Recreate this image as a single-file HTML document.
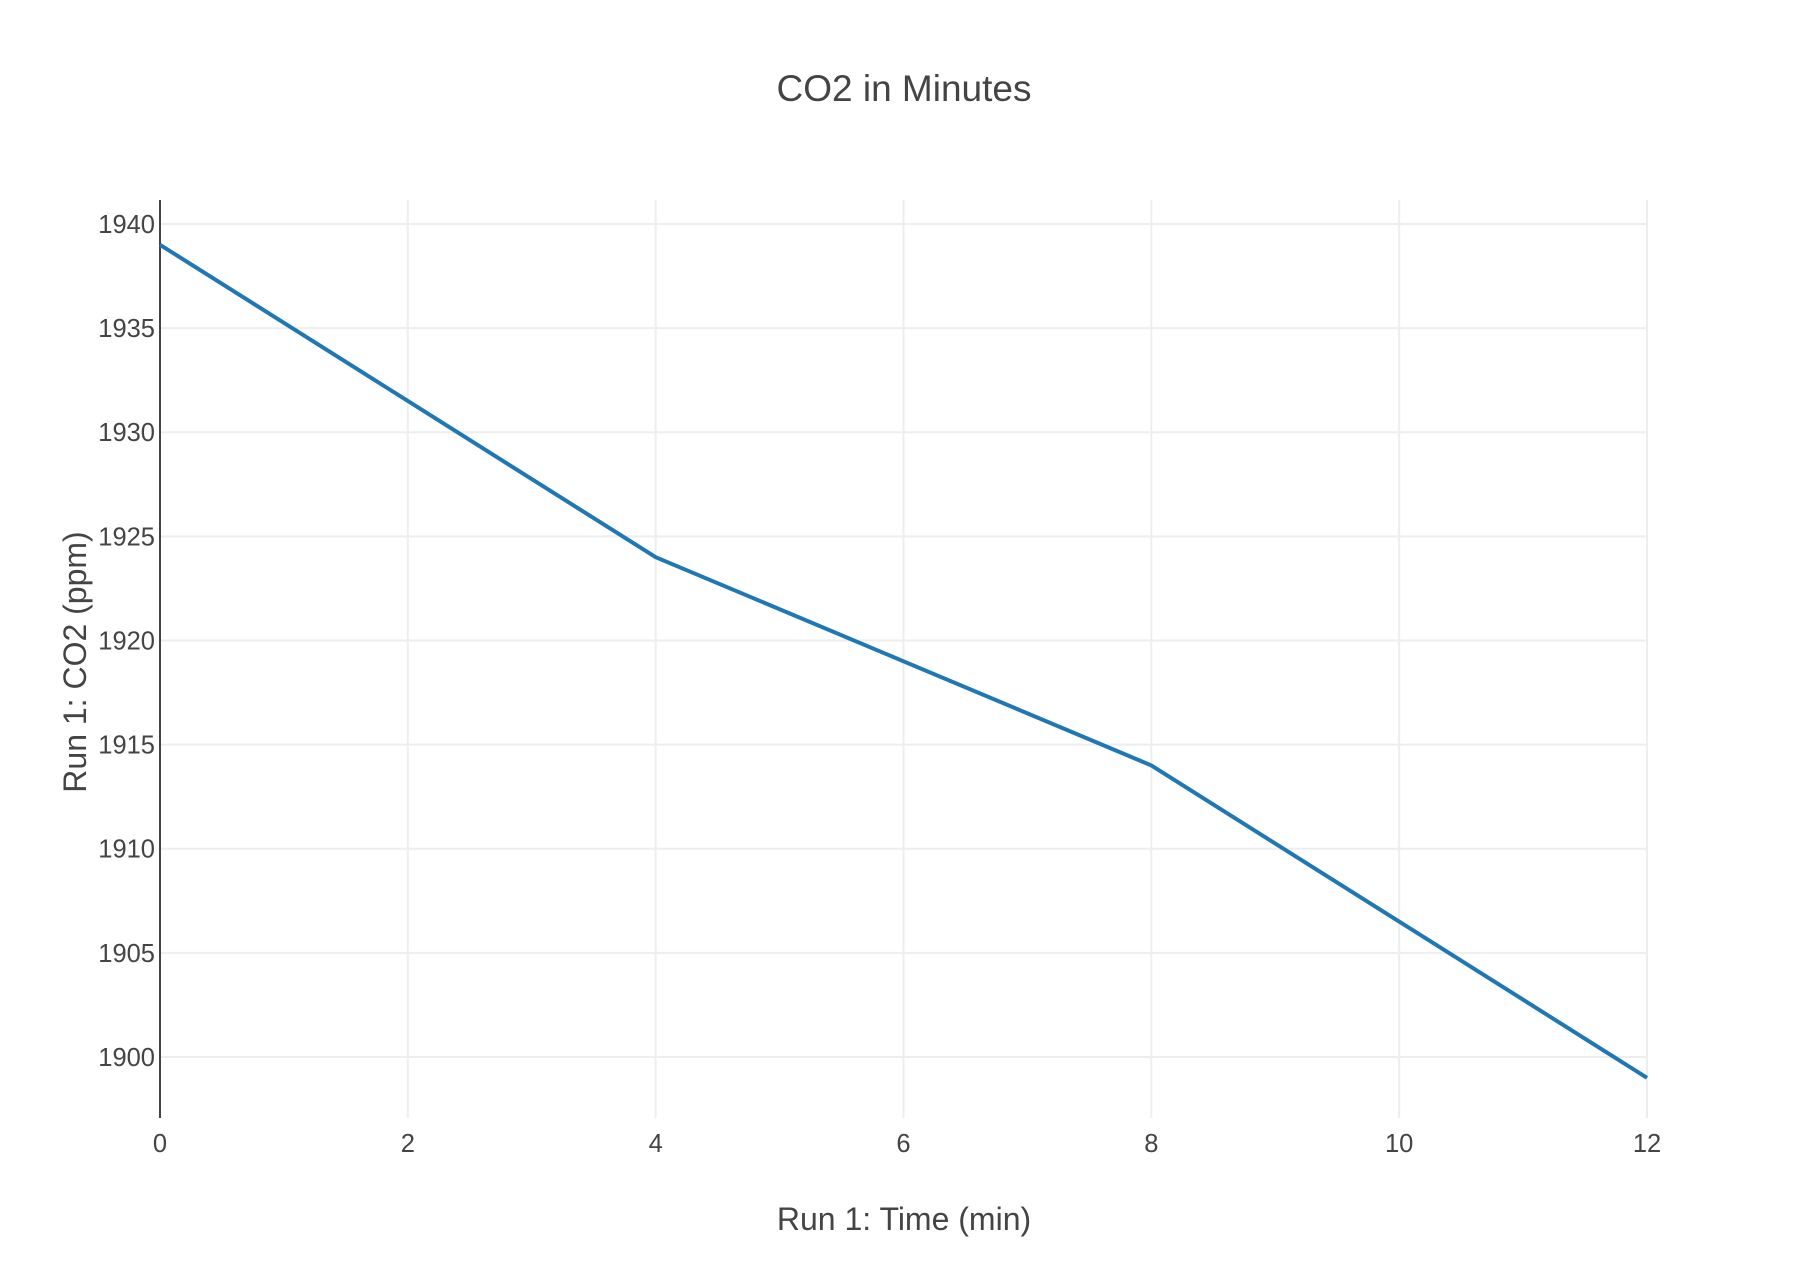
<!DOCTYPE html>
<html><head><meta charset="utf-8"><style>
html,body{margin:0;padding:0;background:#fff;}
svg{display:block;font-family:"Liberation Sans",sans-serif;}
</style></head><body>
<svg id="chart" width="1810" height="1284">
<text x="904" y="101" text-anchor="middle" font-size="37" fill="#444">CO2 in Minutes</text>
<g id="grid"></g>
<g id="ticks"></g>
<line x1="160" y1="200" x2="160" y2="1118" stroke="#444" stroke-width="2"/>
<path id="series" fill="none" stroke="#1f77b4" stroke-width="4" stroke-linejoin="round"/>
<text x="904" y="1230" text-anchor="middle" font-size="32" fill="#444">Run 1: Time (min)</text>
<text x="0" y="0" transform="translate(86,662) rotate(-90)" text-anchor="middle" font-size="32" fill="#444">Run 1: CO2 (ppm)</text>
</svg>
<script>
const times = [0, 2, 4, 6, 8, 10, 12];
const co2 = [1939, 1931.5, 1924, 1919, 1914, 1906.5, 1899];
const xTicks = [0, 2, 4, 6, 8, 10, 12];
const yTicks = [1900, 1905, 1910, 1915, 1920, 1925, 1930, 1935, 1940];

const X0 = 160, X1 = 1647, xMin = 0, xMax = 12;
const Y0 = 1118, Y1 = 200, yMin = 1897.07, yMax = 1941.15;
const xs = v => X0 + (v - xMin) / (xMax - xMin) * (X1 - X0);
const ys = v => Y0 - (v - yMin) / (yMax - yMin) * (Y0 - Y1);
const NS = "http://www.w3.org/2000/svg";
const grid = document.getElementById('grid'), ticks = document.getElementById('ticks');

xTicks.forEach(t => {
  const x = xs(t);
  if (t !== 0) {
    const l = document.createElementNS(NS, 'line');
    l.setAttribute('x1', x); l.setAttribute('x2', x); l.setAttribute('y1', Y1); l.setAttribute('y2', Y0);
    l.setAttribute('stroke', '#eee'); l.setAttribute('stroke-width', '2');
    
    
    grid.appendChild(l);
  }
  const tx = document.createElementNS(NS, 'text');
  tx.setAttribute('x', x); tx.setAttribute('y', 1152);
  tx.setAttribute('text-anchor', 'middle'); tx.setAttribute('font-size', '25.5'); tx.setAttribute('fill', '#444');
  tx.textContent = t;
  
  
  ticks.appendChild(tx);
});
yTicks.forEach(t => {
  const y = ys(t);
  const l = document.createElementNS(NS, 'line');
  l.setAttribute('x1', X0); l.setAttribute('x2', X1); l.setAttribute('y1', y); l.setAttribute('y2', y);
  l.setAttribute('stroke', '#eee'); l.setAttribute('stroke-width', '2');
  
  
  grid.appendChild(l);
  const tx = document.createElementNS(NS, 'text');
  tx.setAttribute('x', 155); tx.setAttribute('y', y + 9);
  tx.setAttribute('text-anchor', 'end'); tx.setAttribute('font-size', '25.5'); tx.setAttribute('fill', '#444');
  tx.textContent = t;
  
  
  ticks.appendChild(tx);
});
document.getElementById('series').setAttribute('d',
  times.map((t, i) => (i ? 'L' : 'M') + xs(t) + ',' + ys(co2[i])).join(' '));
</script>
</body></html>
